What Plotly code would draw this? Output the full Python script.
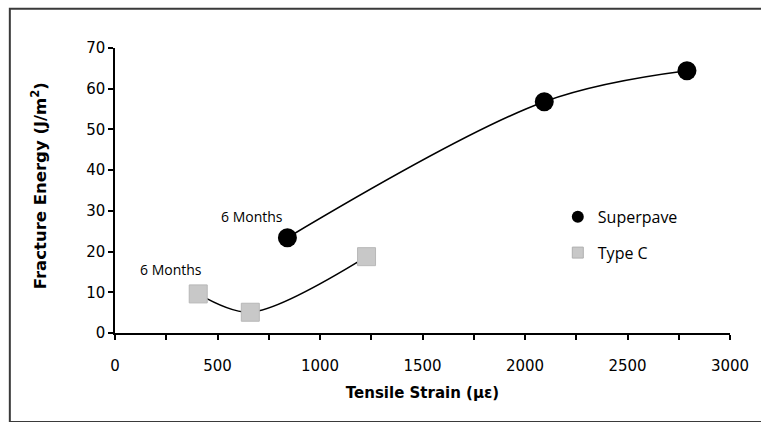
import plotly.graph_objects as go

# Data
superpave_strain = [841, 2094, 2790]
superpave_energy = [23.4, 56.8, 64.4]
typec_strain = [406, 660, 1227]
typec_energy = [9.6, 5.1, 18.75]

x_ticks = [0, 500, 1000, 1500, 2000, 2500, 3000]
y_ticks = [0, 10, 20, 30, 40, 50, 60, 70]

label_text = "6 Months"
label_sp = (669, 28.5)
label_tc = (273, 15.5)

tick_font = dict(family="DejaVu Sans", size=15, color="black")
title_font = dict(family="DejaVu Sans", size=15, color="black")
text_font = dict(family="Open Sans", size=14, color="black")

fig = go.Figure()

# Trend curves
fig.add_trace(go.Scatter(x=superpave_strain, y=superpave_energy, mode="lines",
                         line=dict(color="black", width=1.6, shape="spline", smoothing=1),
                         showlegend=False, hoverinfo="skip"))
fig.add_trace(go.Scatter(x=typec_strain, y=typec_energy, mode="lines",
                         line=dict(color="black", width=1.6, shape="spline", smoothing=0.9),
                         showlegend=False, hoverinfo="skip"))

# Markers
fig.add_trace(go.Scatter(x=superpave_strain, y=superpave_energy, mode="markers",
                         marker=dict(symbol="circle", size=19, color="black"),
                         showlegend=False))
fig.add_trace(go.Scatter(x=typec_strain, y=typec_energy, mode="markers",
                         marker=dict(symbol="square", size=18, color="#c8c8c8",
                                     line=dict(color="#b8b8b8", width=1)),
                         showlegend=False))

# Legend entries
fig.add_trace(go.Scatter(x=[None], y=[None], mode="markers", name="Superpave",
                         legendgroup="a",
                         marker=dict(symbol="circle", size=12, color="black")))
fig.add_trace(go.Scatter(x=[None], y=[None], mode="markers", name="Type C",
                         legendgroup="b",
                         marker=dict(symbol="square", size=11, color="#c8c8c8",
                                     line=dict(color="#b0b0b0", width=1))))

fig.add_annotation(x=label_sp[0], y=label_sp[1], text=label_text, showarrow=False,
                   font=text_font)
fig.add_annotation(x=label_tc[0], y=label_tc[1], text=label_text, showarrow=False,
                   font=text_font)

# Y axis title
fig.add_annotation(xref="paper", yref="paper", x=-0.124, y=0.5175,
                   xanchor="center", yanchor="middle",
                   text="<b>Fracture Energy (J/m<sup>2</sup>)</b>", textangle=-90,
                   showarrow=False, font=dict(family="DejaVu Sans", size=16.5, color="black"))

# Outer border
fig.add_shape(type="rect", xref="paper", yref="paper",
              x0=-0.171, x1=1.06, y0=-0.312, y1=1.138,
              line=dict(color="#3a3a3a", width=2))

fig.update_layout(
    width=761, height=422,
    margin=dict(l=115, r=31, t=48, b=89),
    paper_bgcolor="white", plot_bgcolor="white",
    legend=dict(x=0.72, y=0.467, xanchor="left", yanchor="top",
                font=dict(family="Open Sans", size=16, color="black"),
                traceorder="grouped", tracegroupgap=12,
                bgcolor="rgba(0,0,0,0)"),
    xaxis=dict(range=[0, 3000], tickvals=x_ticks, ticks="outside", ticklen=5,
               tickcolor="black", tickwidth=1.5, ticklabelstandoff=13,
               minor=dict(dtick=250, ticks="outside", ticklen=5, tickcolor="black", tickwidth=1.5),
               showline=True, linecolor="black", linewidth=1.5, showgrid=False,
               zeroline=False, tickfont=tick_font,
               title=dict(text="<b>Tensile Strain (με)</b>", font=title_font, standoff=14)),
    yaxis=dict(range=[0, 70], tickvals=y_ticks, ticks="outside", ticklen=5,
               tickcolor="black", tickwidth=1.5,
               showline=True, linecolor="black", linewidth=1.5, showgrid=False,
               zeroline=False, tickfont=tick_font),
)

fig.write_html("out.html", config={"displayModeBar": False},
               post_script="document.body.style.margin='0';document.body.style.overflow='hidden';")
